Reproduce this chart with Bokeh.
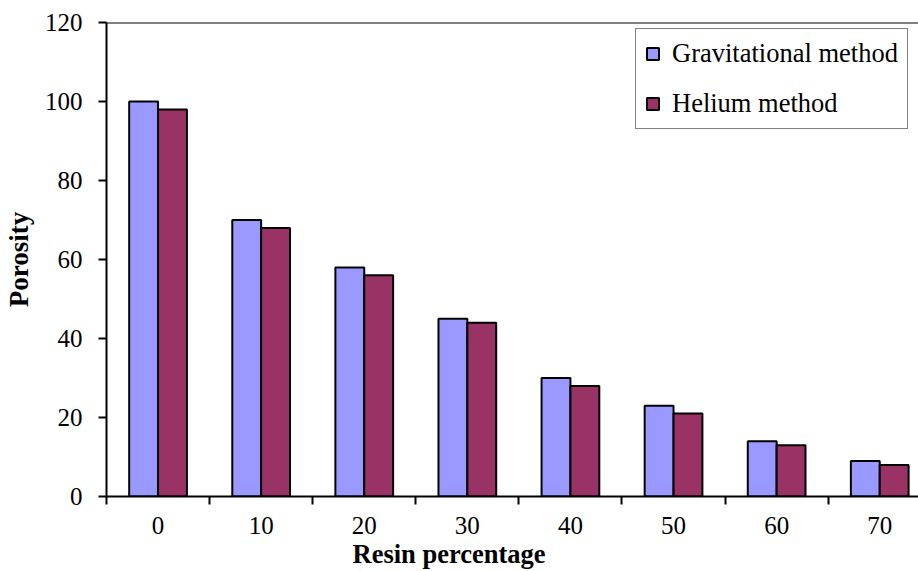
from bokeh.plotting import figure
from bokeh.models import (Range1d, FixedTicker, LinearAxis, Legend, LegendItem,
                          Span, Title, ColumnDataSource)
from bokeh.transform import dodge
from bokeh.embed import file_html
from bokeh.resources import INLINE

categories = ["0", "10", "20", "30", "40", "50", "60", "70"]
gravitational = [100, 70, 58, 45, 30, 23, 14, 9]
helium = [98, 68, 56, 44, 28, 21, 13, 8]
y_ticks = [0, 20, 40, 60, 80, 100, 120]

FONT = "Liberation Serif"
FS = "25px"
FS_LEG = "26.5px"
FS_TITLE = "26.5px"
BLUE = "#9999FF"
PLUM = "#993366"

centers = [i + 0.5 for i in range(len(categories))]
boundaries = list(range(len(categories)))
src = ColumnDataSource(dict(x=centers, g=gravitational, h=helium))

p = figure(width=918, height=571, output_backend="svg", toolbar_location=None,
           x_range=Range1d(0, 7.876), y_range=Range1d(0, 120),
           x_axis_type=None,
           min_border_left=106, min_border_right=0, min_border_top=22,
           min_border_bottom=75)
p.grid.visible = False
p.outline_line_color = None
p.background_fill_color = "white"
p.border_fill_color = "white"

r1 = p.vbar(x=dodge("x", -0.14, range=p.x_range), top="g", width=0.28, source=src,
            fill_color=BLUE, line_color="black", line_width=2)
r2 = p.vbar(x=dodge("x", 0.14, range=p.x_range), top="h", width=0.28, source=src,
            fill_color=PLUM, line_color="black", line_width=2)

# y axis
ya = p.yaxis[0]
ya.ticker = FixedTicker(ticks=y_ticks)
ya.major_tick_in = 0
ya.major_tick_out = 8
ya.major_tick_line_width = 2
ya.major_tick_line_color = "black"
ya.minor_tick_line_color = None
ya.axis_line_width = 2
ya.axis_line_color = "black"
ya.major_label_text_font = FONT
ya.major_label_text_font_size = FS
ya.major_label_text_color = "black"
ya.major_label_standoff = 16
ya.axis_label = "Porosity"
ya.axis_label_text_font = FONT
ya.axis_label_text_font_size = "27px"
ya.axis_label_text_font_style = "bold"
ya.axis_label_text_color = "black"
ya.axis_label_standoff = 8

# x axis: tick marks at category boundaries
xa1 = LinearAxis(ticker=FixedTicker(ticks=boundaries),
                 major_label_overrides={b: "" for b in boundaries},
                 major_label_text_font_size="0px",
                 major_label_standoff=0,
                 major_tick_in=0, major_tick_out=8,
                 major_tick_line_width=2, major_tick_line_color="black",
                 minor_tick_line_color=None,
                 axis_line_width=2, axis_line_color="black")
p.add_layout(xa1, "below")

# x axis: category labels at centres
xa2 = LinearAxis(ticker=FixedTicker(ticks=centers),
                 major_label_overrides={c: lab for c, lab in zip(centers, categories)},
                 major_label_text_font=FONT, major_label_text_font_size=FS,
                 major_label_text_color="black",
                 major_label_standoff=12,
                 major_tick_in=0, major_tick_out=0,
                 major_tick_line_color=None, minor_tick_line_color=None,
                 axis_line_color=None)
p.add_layout(xa2, "below")

p.add_layout(Span(location=120, dimension="width", line_color="black", line_width=2))

p.add_layout(Title(text="Resin percentage", align="left", offset=246, standoff=0,
                   text_font=FONT, text_font_size=FS_TITLE, text_font_style="bold",
                   text_color="black", text_line_height=0.9), "below")

legend = Legend(items=[LegendItem(label="Gravitational method", renderers=[r1]),
                       LegendItem(label="Helium method", renderers=[r2])],
                location=(529, 367),
                border_line_color="black", border_line_width=1.5,
                background_fill_color="white", background_fill_alpha=1,
                label_text_font=FONT, label_text_font_size=FS_LEG, label_text_color="black",
                glyph_width=15, glyph_height=15, label_height=20, spacing=19,
                padding=9, margin=0, label_standoff=12)
p.add_layout(legend)

open("out.html", "w").write(file_html(p, INLINE))
